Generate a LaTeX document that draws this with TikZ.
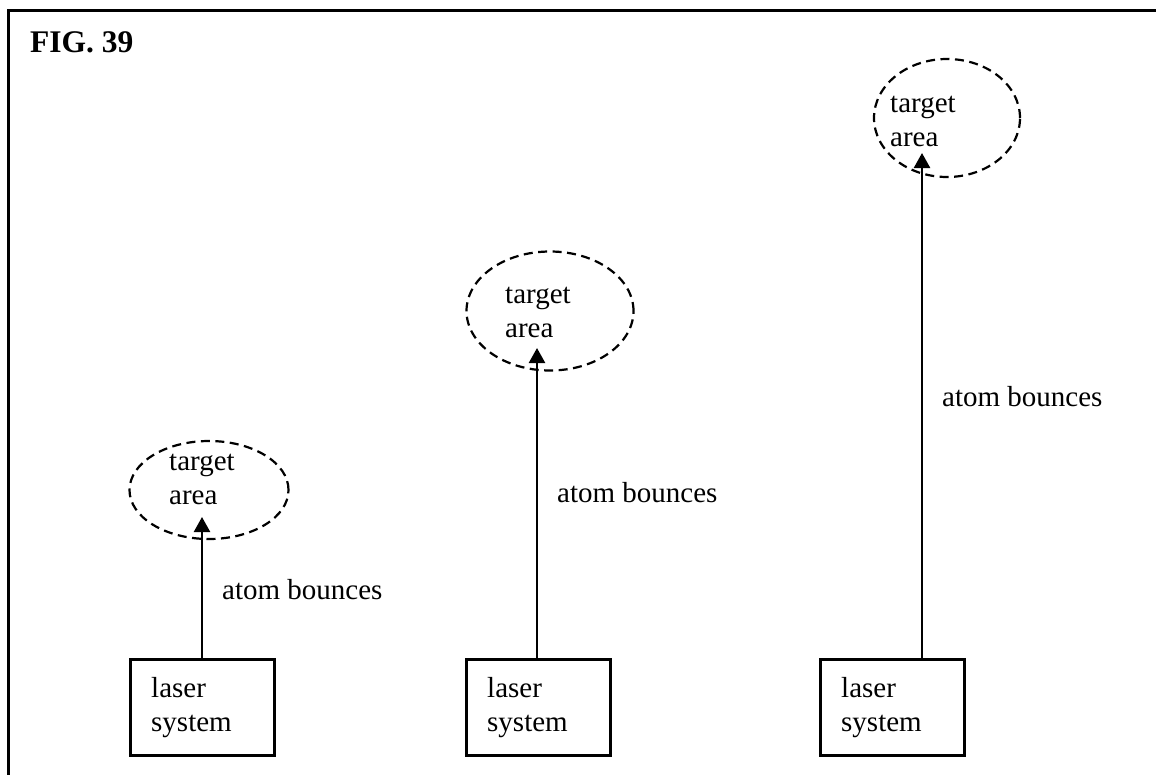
\documentclass[tikz,border=0pt]{standalone}
\usepackage{fontspec}
\setmainfont{Liberation Serif}
\usetikzlibrary{arrows.meta,shapes.geometric}
\begin{document}
\begin{tikzpicture}[x=1pt,y=-1pt,
  txt/.style={inner sep=0pt, font=\fontsize{29}{34}\selectfont, align=left, anchor=base west},
  lasbox/.style={draw, line width=3pt, minimum width=144pt, minimum height=96pt, inner sep=0pt},
  zone/.style={ellipse, draw, dash pattern=on 9pt off 5.5pt, line width=2.2pt, inner sep=0pt},
  beam/.style={line width=2.4pt, -{Triangle[width=16pt,length=15pt]}}]
\useasboundingbox (0,0) rectangle (1156,774);
% frame (top and left edges)
\draw[line width=3pt] (8.5,780) -- (8.5,10) -- (1160,10);
\node[anchor=base west, inner sep=0pt, font=\bfseries\fontsize{31.5}{36}\selectfont] (fig) at (30,52) {FIG. 39};

% target areas (multi-line text is anchored on its last baseline)
\node[zone, minimum width=159pt, minimum height=98pt] (z1) at (209,490) {};
\node[zone, minimum width=167pt, minimum height=119pt] (z2) at (550,311) {};
\node[zone, minimum width=146pt, minimum height=118pt] (z3) at (947,118) {};
\node[txt] (zt1) at (169,504) {target\\area};
\node[txt] (zt2) at (505,337) {target\\area};
\node[txt] (zt3) at (890,146) {target\\area};

% laser systems
\node[lasbox] (b1) at (202,707) {};
\node[lasbox] (b2) at (538,707) {};
\node[lasbox] (b3) at (892,707) {};
\node[txt] (bt1) at (151,731) {laser\\system};
\node[txt] (bt2) at (487,731) {laser\\system};
\node[txt] (bt3) at (841,731) {laser\\system};

% bounce paths
\coordinate (t1) at (202,517);
\coordinate (t2) at (537,348);
\coordinate (t3) at (922,153);
\draw[beam] (t1 |- b1.north) -- (t1);
\draw[beam] (t2 |- b2.north) -- (t2);
\draw[beam] (t3 |- b3.north) -- (t3);
\node[txt] (a1) at (222,599) {atom bounces};
\node[txt] (a2) at (557,502) {atom bounces};
\node[txt] (a3) at (942,406) {atom bounces};
\end{tikzpicture}
\end{document}
